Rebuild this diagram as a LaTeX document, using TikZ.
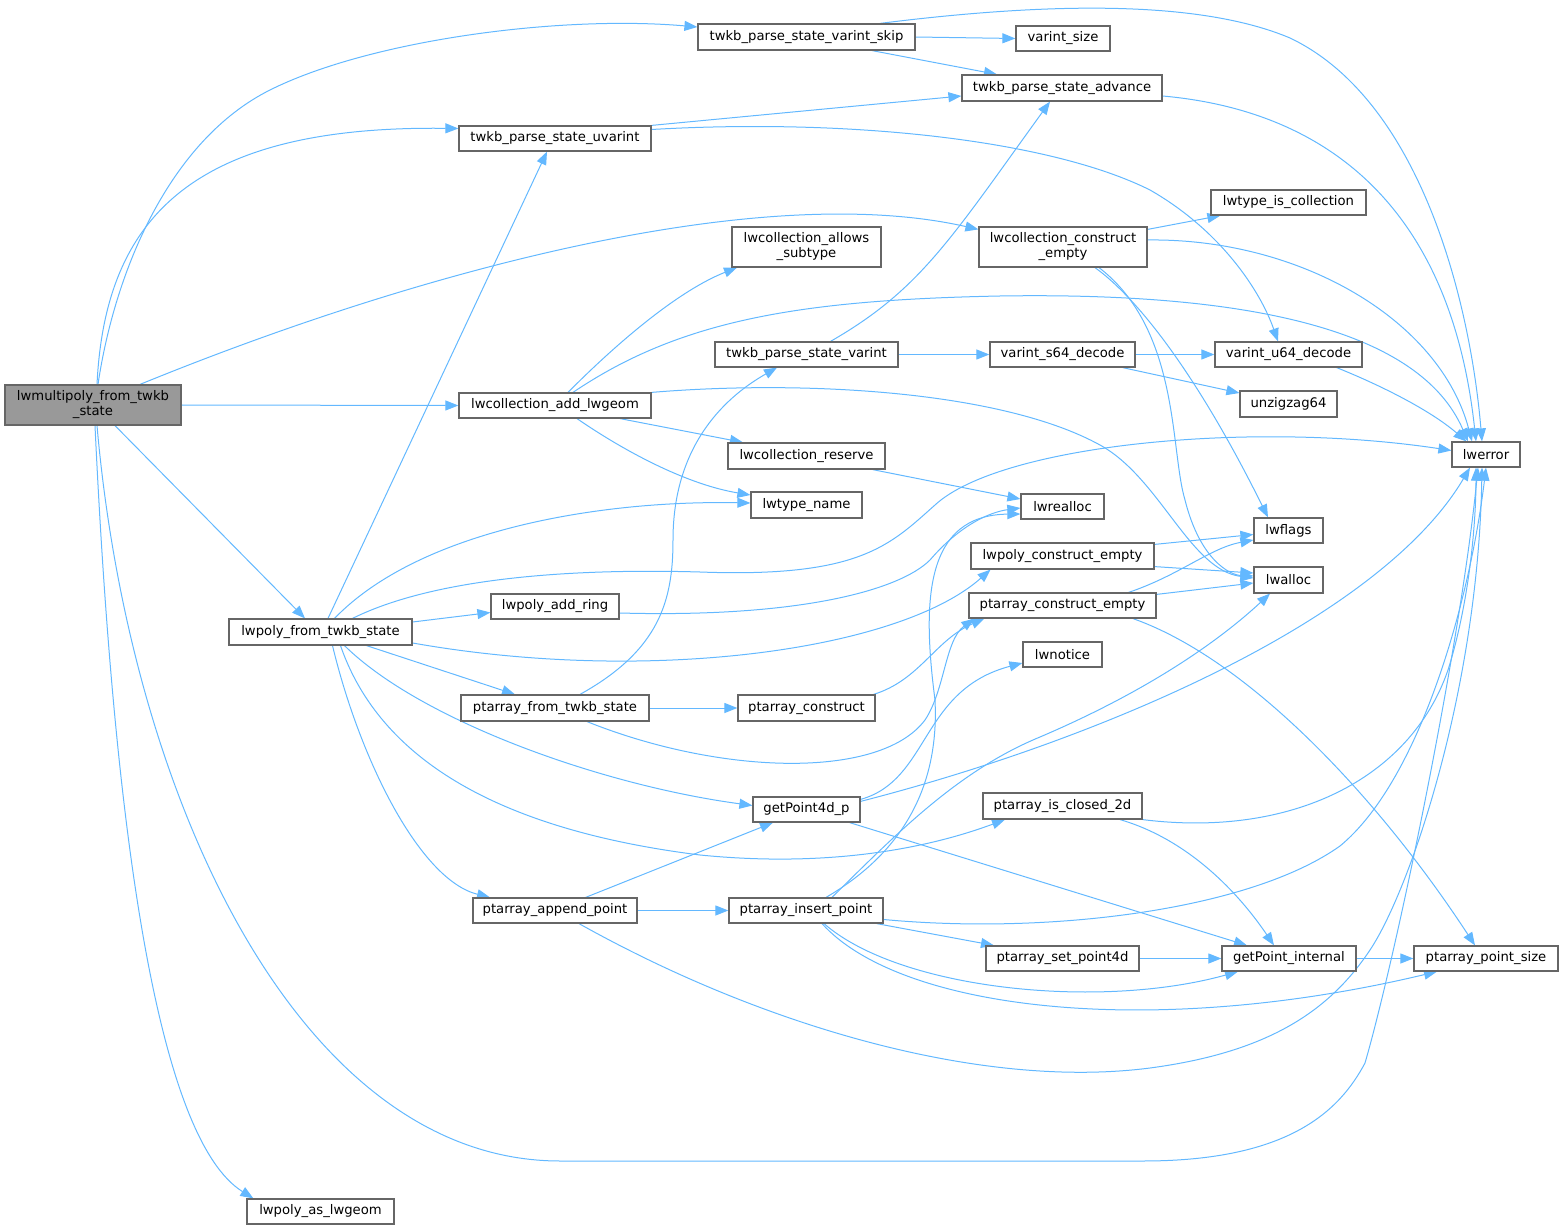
\documentclass[tikz,border=0pt]{standalone}
\usepackage{fontspec}
\setmainfont{DejaVu Sans}
\usetikzlibrary{arrows.meta,backgrounds}
\definecolor{edgec}{HTML}{63B8FF}
\definecolor{boxc}{HTML}{666666}
\definecolor{mainc}{HTML}{999999}
\tikzset{
  fn/.style={draw=boxc, line width=0.6pt, fill=white, inner sep=0pt, align=center,
             font=\fontsize{6.6}{7.5}\selectfont, text=black},
  call/.style={draw=edgec, line width=0.5pt, -{Triangle[length=6.5pt,width=5pt]}},
}
\newcommand\fnbox[7][]{%
  \node[fn, minimum width={(#5-#3)*0.5pt}, minimum height={(#6-#4)*0.5pt}, #1] (#2)
    at ({(#3+#5)/2},{(#4+#6)/2}) {#7};}
\begin{document}
\begin{tikzpicture}[x=0.5pt,y=-0.5pt]
\useasboundingbox (0,0) rectangle (1560,1230);
% nodes
\fnbox[fill=mainc]{M}{5}{385}{181}{425}{lwmultipoly\_from\_twkb\\\_state}
\fnbox{P}{229}{619}{412}{645}{lwpoly\_from\_twkb\_state}
\fnbox{AS}{247}{1199}{394}{1224}{lwpoly\_as\_lwgeom}
\fnbox{VS}{698}{24}{915}{50}{twkb\_parse\_state\_varint\_skip}
\fnbox{UV}{459}{126}{651}{151}{twkb\_parse\_state\_uvarint}
\fnbox{AG}{459}{393}{651}{418}{lwcollection\_add\_lwgeom}
\fnbox{PF}{461}{695}{649}{721}{ptarray\_from\_twkb\_state}
\fnbox{AR}{491}{594}{619}{619}{lwpoly\_add\_ring}
\fnbox{AP}{473}{898}{637}{923}{ptarray\_append\_point}
\fnbox{VSZ}{1016}{26}{1110}{51}{varint\_size}
\fnbox{ADV}{962}{75}{1162}{101}{twkb\_parse\_state\_advance}
\fnbox{CAS}{732}{227}{881}{267}{lwcollection\_allows\\\_subtype}
\fnbox{CE}{979}{227}{1147}{267}{lwcollection\_construct\\\_empty}
\fnbox{TIC}{1211}{190}{1366}{215}{lwtype\_is\_collection}
\fnbox{V}{715}{342}{898}{367}{twkb\_parse\_state\_varint}
\fnbox{RES}{728}{443}{885}{469}{lwcollection\_reserve}
\fnbox{TN}{751}{492}{862}{518}{lwtype\_name}
\fnbox{S64}{990}{342}{1135}{367}{varint\_s64\_decode}
\fnbox{U64}{1215}{342}{1362}{367}{varint\_u64\_decode}
\fnbox{UZ}{1240}{391}{1337}{417}{unzigzag64}
\fnbox{ERR}{1452}{442}{1520}{467}{lwerror}
\fnbox{REA}{1021}{494}{1104}{519}{lwrealloc}
\fnbox{FL}{1254}{518}{1323}{543}{lwflags}
\fnbox{PCE}{971}{543}{1154}{569}{lwpoly\_construct\_empty}
\fnbox{ALC}{1254}{567}{1323}{593}{lwalloc}
\fnbox{ACE}{969}{593}{1156}{618}{ptarray\_construct\_empty}
\fnbox{PC}{738}{695}{875}{721}{ptarray\_construct}
\fnbox{NOT}{1023}{642}{1102}{667}{lwnotice}
\fnbox{G4}{753}{797}{860}{822}{getPoint4d\_p}
\fnbox{ICL}{983}{793}{1142}{819}{ptarray\_is\_closed\_2d}
\fnbox{INS}{729}{898}{883}{923}{ptarray\_insert\_point}
\fnbox{SP4}{986}{946}{1139}{971}{ptarray\_set\_point4d}
\fnbox{GPI}{1222}{946}{1356}{971}{getPoint\_internal}
\fnbox{PS}{1414}{946}{1558}{971}{ptarray\_point\_size}
% edges
\begin{pgfonlayer}{background}
% from lwmultipoly_from_twkb_state
\draw[call] ([xshift=2.5pt]M.north) .. controls (115,270) and (170,140) .. (270,90) .. controls (370,40) and (560,15) .. ([yshift=5pt]VS.west);
\draw[call] ([xshift=2pt]M.north) .. controls (105,220) and (190,125) .. ([yshift=5pt]UV.west);
\draw[call] ([xshift=23.5pt]M.north) .. controls (420,270) and (760,180) .. ([yshift=-1.5pt]CE.north west);
\draw[call] (M.east) -- (AG.west);
\draw[call] ([xshift=11pt]M.south) -- ([xshift=-7.75pt]P.north);
\draw[call] ([xshift=2pt]M.south) .. controls (130,800) and (300,1161) .. (560,1161) -- (1143,1161) .. controls (1290,1161) and (1340,1110) .. (1365,1063) .. controls (1395,960) and (1460,650) .. ([xshift=-4pt]ERR.south);
\draw[call] ([xshift=1pt]M.south) .. controls (115,850) and (160,1140) .. ([xshift=3.5pt]AS.north west);
% from lwpoly_from_twkb_state
\draw[call] ([xshift=3.75pt]P.north) -- ([xshift=-4pt]UV.south);
\draw[call] ([xshift=7pt]P.north) .. controls (420,530) and (600,500) .. ([yshift=1pt]TN.west);
\draw[call] ([xshift=16pt]P.north) .. controls (430,580) and (560,568) .. (700,572) .. controls (860,578) and (890,545) .. (935,505) .. controls (1000,445) and (1250,420) .. ([yshift=2pt]ERR.west);
\draw[call] ([yshift=5pt]P.east) -- ([yshift=-3pt]AR.west);
\draw[call] ([yshift=-5.5pt]P.east) .. controls (650,685) and (900,650) .. ([xshift=-36pt]PCE.south);
\draw[call] ([xshift=23pt]P.south) -- ([xshift=-20pt]PF.north);
\draw[call] ([xshift=12pt]P.south) .. controls (420,720) and (600,785) .. ([yshift=2pt]G4.west);
\draw[call] ([xshift=10pt]P.south) .. controls (380,760) and (500,830) .. (700,855) .. controls (850,870) and (950,840) .. ([xshift=-28.75pt]ICL.south);
\draw[call] ([xshift=6pt]P.south) .. controls (360,760) and (420,880) .. ([xshift=-32.5pt]AP.north);
% twkb_parse_state_varint_skip
\draw[call] ([xshift=36.75pt]VS.north) .. controls (1050,2) and (1200,0) .. (1290,38) .. controls (1420,100) and (1470,300) .. ([xshift=-2pt]ERR.north);
\draw[call] (VS.east) -- (VSZ.west);
\draw[call] ([xshift=32.75pt]VS.south) -- ([xshift=-32.5pt]ADV.north);
% twkb_parse_state_uvarint
\draw[call] (UV.north east) -- ([yshift=-4pt]ADV.west);
\draw[call] ([yshift=4.5pt]UV.east) .. controls (850,118) and (1050,140) .. (1150,190) .. controls (1220,230) and (1260,290) .. ([xshift=-5.25pt]U64.north);
% twkb_parse_state_advance
\draw[call] ([yshift=-4pt]ADV.east) .. controls (1320,110) and (1450,200) .. ([xshift=-5pt]ERR.north);
% lwcollection_construct_empty
\draw[call] ([yshift=-1.5pt]CE.north east) -- ([xshift=5pt]TIC.south west);
\draw[call] ([yshift=3.5pt]CE.east) .. controls (1300,238) and (1440,320) .. ([xshift=-7pt]ERR.north);
\draw[call] ([xshift=16pt]CE.south) .. controls (1140,300) and (1200,380) .. ([xshift=-10.25pt]FL.north);
\draw[call] ([xshift=18pt]CE.south) .. controls (1180,330) and (1170,450) .. (1185,500) .. controls (1200,560) and (1230,575) .. ([yshift=2pt]ALC.west);
% lwcollection_add_lwgeom
\draw[call] ([xshift=6.5pt]AG.north) .. controls (620,340) and (680,290) .. ([xshift=-34.75pt]CAS.south);
\draw[call] ([xshift=9pt]AG.north) .. controls (680,320) and (800,300) .. (1000,296) .. controls (1250,292) and (1420,330) .. ([xshift=-9pt]ERR.north);
\draw[call] (AG.north east) .. controls (800,380) and (1000,390) .. (1100,445) .. controls (1160,478) and (1190,570) .. ([yshift=1pt]ALC.west);
\draw[call] ([xshift=32.5pt]AG.south) -- ([xshift=-31.75pt]RES.north);
\draw[call] ([xshift=11pt]AG.south) .. controls (630,455) and (690,485) .. ([yshift=5pt]TN.west);
% twkb_parse_state_varint
\draw[call] ([xshift=12pt]V.north) .. controls (920,290) and (950,240) .. ([xshift=-6pt]ADV.south);
\draw[call] (V.east) -- (S64.west);
% varint decoders
\draw[call] (S64.east) -- (U64.west);
\draw[call] ([xshift=-6.5pt]S64.south east) -- ([yshift=5.5pt]UZ.west);
\draw[call] ([xshift=-13pt]U64.south east) .. controls (1380,385) and (1430,410) .. ([xshift=7.5pt]ERR.north west);
% reserve / add_ring -> lwrealloc
\draw[call] ([xshift=-6.5pt]RES.south east) -- ([yshift=3.75pt]REA.west);
\draw[call] ([yshift=-3.25pt]AR.east) .. controls (800,618) and (900,590) .. (930,560) .. controls (960,525) and (990,512) .. ([yshift=-0.75pt]REA.west);
% construct_empty functions
\draw[call] ([yshift=-1pt]PCE.north east) -- ([yshift=-2pt]FL.west);
\draw[call] ([yshift=1.5pt]PCE.south east) -- ([yshift=3.5pt]ALC.west);
\draw[call] ([xshift=-14pt]ACE.north east) .. controls (1180,575) and (1210,548) .. ([yshift=-4.75pt]FL.west);
\draw[call] ([yshift=-1pt]ACE.north east) -- ([yshift=-1.5pt]ALC.west);
\draw[call] ([xshift=35.25pt]ACE.south) .. controls (1250,660) and (1380,800) .. ([xshift=-5.5pt]PS.north);
% ptarray_from_twkb_state
\draw[call] ([xshift=12.5pt]PF.north) .. controls (660,650) and (673,600) .. (673,540) .. controls (673,450) and (720,400) .. ([xshift=-14.75pt]V.south);
\draw[call] (PF.east) -- (PC.west);
\draw[call] ([xshift=16pt]PF.south) .. controls (720,775) and (880,780) .. (925,720) .. controls (945,690) and (945,640) .. ([xshift=3pt]ACE.south west);
\draw[call] ([xshift=-1pt]PC.north east) .. controls (920,680) and (935,640) .. ([xshift=8pt]ACE.south west);
% getPoint4d_p
\draw[call] ([yshift=-1.5pt]G4.north east) .. controls (930,780) and (920,690) .. ([yshift=-4.25pt]NOT.west);
\draw[call] ([yshift=-2.5pt]G4.north east) .. controls (1100,740) and (1380,620) .. ([xshift=-8pt]ERR.south);
\draw[call] ([xshift=-5.5pt]G4.south east) -- ([xshift=-21pt]GPI.north);
% ptarray_is_closed_2d
\draw[call] (ICL.south east) .. controls (1290,838) and (1410,780) .. (1448,670) .. controls (1470,600) and (1476,520) .. ([xshift=-5pt]ERR.south);
\draw[call] ([xshift=28.75pt]ICL.south) .. controls (1190,840) and (1240,895) .. ([xshift=-7.5pt]GPI.north);
\draw[call] (SP4.east) -- (GPI.west);
\draw[call] (GPI.east) -- (PS.west);
% ptarray_append_point
\draw[call] ([xshift=15.3pt]AP.north) -- ([xshift=-16.75pt]G4.south);
\draw[call] (AP.east) -- (INS.west);
\draw[call] ([xshift=12pt]AP.south) .. controls (760,1025) and (980,1090) .. (1150,1068) .. controls (1270,1052) and (1330,1010) .. (1370,950) .. controls (1410,890) and (1478,690) .. ([xshift=-2pt]ERR.south);
% ptarray_insert_point
\draw[call] ([xshift=10pt]INS.north) .. controls (890,860) and (940,800) .. (935,700) .. controls (922,600) and (925,515) .. ([yshift=-3.75pt]REA.west);
\draw[call] ([xshift=13pt]INS.north) .. controls (900,830) and (960,770) .. (1040,737) .. controls (1150,690) and (1220,640) .. ([xshift=-9.25pt]ALC.south);
\draw[call] ([yshift=-4.5pt]INS.east) .. controls (1050,935) and (1250,910) .. (1340,846) .. controls (1420,780) and (1470,600) .. (ERR.south);
\draw[call] ([xshift=-3.5pt]INS.south east) -- ([xshift=-34.25pt]SP4.north);
\draw[call] ([xshift=9pt]INS.south) .. controls (900,990) and (1100,1010) .. ([xshift=-25.5pt]GPI.south);
\draw[call] ([xshift=8pt]INS.south) .. controls (900,1010) and (1150,1040) .. ([xshift=-24.5pt]PS.south);
\end{pgfonlayer}
\end{tikzpicture}
\end{document}
